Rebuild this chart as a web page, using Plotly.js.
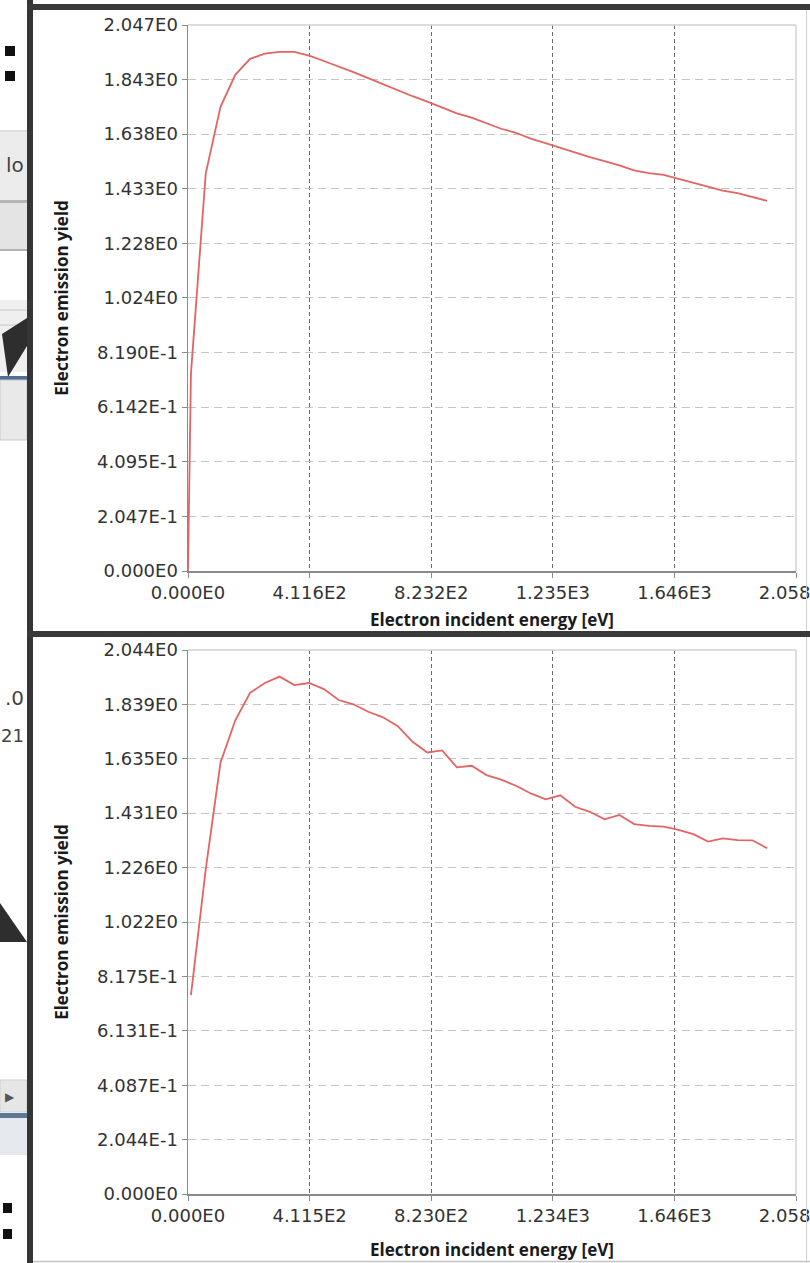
<!DOCTYPE html>
<html><head><meta charset="utf-8">
<script src="https://cdn.plot.ly/plotly-3.0.1.min.js"></script>
<style>html,body{margin:0;padding:0;background:#fff;overflow:hidden}#chart{width:810px;height:1263px}</style>
</head><body><div id="chart"></div>
<script>
// ---- data ----
const energyTop = [0,10,60,110,160,210,260,310,360,410,460,510,560,610,660,710,760,810,860,910,960,1010,1060,1110,1160,1210,1260,1310,1360,1410,1460,1510,1560,1610,1660,1710,1760,1810,1860,1910,1960];
const yieldTop  = [0,0.74,1.49,1.74,1.86,1.92,1.94,1.946,1.946,1.932,1.912,1.892,1.870,1.848,1.825,1.800,1.780,1.760,1.738,1.716,1.700,1.679,1.658,1.643,1.621,1.604,1.587,1.568,1.552,1.537,1.521,1.502,1.492,1.485,1.470,1.454,1.440,1.426,1.417,1.402,1.388];
const energyBottom = [10,60,110,160,210,260,310,360,410,460,510,560,610,660,710,760,810,860,910,960,1010,1060,1110,1160,1210,1260,1310,1360,1410,1460,1510,1560,1610,1660,1710,1760,1810,1860,1910,1960];
const yieldBottom  = [0.747,1.22,1.621,1.780,1.883,1.920,1.944,1.912,1.920,1.897,1.856,1.840,1.812,1.791,1.758,1.699,1.659,1.667,1.603,1.609,1.574,1.557,1.534,1.505,1.483,1.498,1.455,1.436,1.408,1.424,1.390,1.383,1.380,1.368,1.352,1.324,1.336,1.330,1.329,1.299];

const xTickValsTop = [0,411.6,823.2,1234.8,1646.4,2058];
const xTickTextTop = ["0.000E0","4.116E2","8.232E2","1.235E3","1.646E3","2.058E3"];
const yTickValsTop = [0,0.2047,0.4095,0.6142,0.8190,1.024,1.228,1.433,1.638,1.843,2.047];
const yTickTextTop = ["0.000E0","2.047E-1","4.095E-1","6.142E-1","8.190E-1","1.024E0","1.228E0","1.433E0","1.638E0","1.843E0","2.047E0"];
const xTickValsBottom = [0,411.5,823.0,1234.5,1646,2057.5];
const xTickTextBottom = ["0.000E0","4.115E2","8.230E2","1.234E3","1.646E3","2.058E3"];
const yTickValsBottom = [0,0.2044,0.4087,0.6131,0.8175,1.022,1.226,1.431,1.635,1.839,2.044];
const yTickTextBottom = ["0.000E0","2.044E-1","4.087E-1","6.131E-1","8.175E-1","1.022E0","1.226E0","1.431E0","1.635E0","1.839E0","2.044E0"];

const xTitle = "Electron incident energy [eV]";
const yTitle = "Electron emission yield";

// ---- geometry ----
const W = 810, H = 1263;
const M = {l:188, r:14, t:25, b:69};
const PW = W - M.l - M.r, PH = H - M.t - M.b;
const px = v => (v - M.l) / PW;
const py = v => (H - M.b - v) / PH;
const topDom = [1 - (571 - 25) / PH, 1];
const botDom = [0, (1194 - 650) / PH];

const tickFont = {family:"DejaVu Sans", size:18, color:"#333"};
const titleFont = {family:"Open Sans", size:17, color:"#1a1a1a", weight:700};
const lineCol = "#e26464";

function xAxis(vals, text, rng, anchor){
  return {domain:[0,1], anchor:anchor, range:rng, tickmode:"array", tickvals:vals, ticktext:text,
    showgrid:true, gridcolor:"#6a6a6a", griddash:"4px,3px", gridwidth:1, zeroline:false,
    showline:true, linecolor:"#8a8a8a", linewidth:1.5, ticks:"outside", ticklen:5, tickcolor:"#8a8a8a",
    ticklabeloverflow:"allow",
    tickfont:tickFont, title:{text:xTitle, font:titleFont, standoff:12}};
}
function yAxis(vals, text, rng, dom, anchor){
  return {domain:dom, anchor:anchor, range:rng, tickmode:"array", tickvals:vals, ticktext:text,
    showgrid:true, gridcolor:"#c4c4c4", griddash:"8px,5px", gridwidth:1, zeroline:false,
    showline:true, linecolor:"#8a8a8a", linewidth:1.5, ticks:"outside", ticklen:5, tickcolor:"#8a8a8a",
    tickfont:tickFont, title:{text:yTitle, font:titleFont, standoff:24}};
}

const traces = [
  {x:energyTop, y:yieldTop, xaxis:"x", yaxis:"y", type:"scatter", mode:"lines", line:{color:lineCol, width:1.8}, hoverinfo:"skip"},
  {x:energyBottom, y:yieldBottom, xaxis:"x2", yaxis:"y2", type:"scatter", mode:"lines", line:{color:lineCol, width:1.8}, hoverinfo:"skip"}
];

function rect(x0,y0,x1,y1,fill,lineColor,lw){
  return {type:"rect", xref:"paper", yref:"paper", x0:px(x0), x1:px(x1), y0:py(y0), y1:py(y1),
    fillcolor:fill, line:{color:lineColor||fill, width:lw||0}, layer:"above"};
}
function hline(x0,x1,y,color,w){
  return {type:"line", xref:"paper", yref:"paper", x0:px(x0), x1:px(x1), y0:py(y), y1:py(y), line:{color:color, width:w}, layer:"above"};
}
function vline(x,y0,y1,color,w){
  return {type:"line", xref:"paper", yref:"paper", x0:px(x), x1:px(x), y0:py(y0), y1:py(y1), line:{color:color, width:w}, layer:"above"};
}
function path(pts, fill){
  let d = pts.map((p,i)=>(i?"L":"M")+px(p[0])+","+py(p[1])).join(" ")+" Z";
  return {type:"path", xref:"paper", yref:"paper", path:d, fillcolor:fill, line:{width:0}, layer:"above"};
}

const shapes = [
  // plot borders (top/right)
  hline(188,796,25,"#d2d2d2",1.5), vline(796,25,571,"#d2d2d2",1.5),
  hline(188,796,650,"#d2d2d2",1.5), vline(796,650,1194,"#d2d2d2",1.5),
  // left UI fragments
  rect(0,130,27,200,"#ececec"), hline(0,27,131,"#d0d0d0",1), rect(0,200,27,203,"#b5b5b5"),
  rect(0,203,27,249,"#e4e4e4"), hline(0,27,250,"#9a9a9a",1.5),
  rect(0,300,27,372,"#efefef"), hline(0,27,310,"#c8c8c8",1), hline(0,27,325,"#c8c8c8",1),
  path([[2,334],[27,318],[27,346],[8,377]],"#2e2e2e"),
  rect(0,376,27,380,"#4f6f94"), rect(0,380,27,440,"#e9e9e9","#c9c9c9",1),
  path([[0,903],[27,942],[0,942]],"#2e2e2e"),
  rect(0,1080,27,1112,"#e6e6e6","#cfcfcf",1), rect(0,1113,27,1118,"#5b7896"), rect(0,1118,27,1155,"#e6eaee"),
  rect(5,46,15,56,"#111"), rect(5,71,15,81,"#111"),
  rect(3,1203,12,1213,"#111"), rect(3,1229,12,1239,"#111"),
  // frame
  rect(27,0,33,H,"#353535"),
  rect(27,4,W,10,"#3a3a3a"),
  rect(27,631,W,637,"#3a3a3a"),
  vline(806.5,10,631,"#cfcfcf",1), vline(806.5,637,H,"#cfcfcf",1),
  hline(33,W,1261.5,"#c4c4c4",1.5)
];

const uiFont = {family:"DejaVu Sans", size:20, color:"#444"};
const annotations = [
  {xref:"paper", yref:"paper", x:px(26), y:py(165), xanchor:"right", yanchor:"middle", text:"lo", showarrow:false, font:uiFont},
  {xref:"paper", yref:"paper", x:px(26), y:py(698), xanchor:"right", yanchor:"middle", text:".0", showarrow:false, font:uiFont},
  {xref:"paper", yref:"paper", x:px(26), y:py(735), xanchor:"right", yanchor:"middle", text:"21", showarrow:false, font:{family:"DejaVu Sans", size:18, color:"#444"}},
  {xref:"paper", yref:"paper", x:px(10), y:py(1097), xanchor:"center", yanchor:"middle", text:"▶", showarrow:false, font:{family:"DejaVu Sans", size:12, color:"#555"}}
];

const layout = {
  width:W, height:H, margin:M, paper_bgcolor:"#fff", plot_bgcolor:"#fff", showlegend:false,
  xaxis: xAxis(xTickValsTop, xTickTextTop, [0,2058], "y"),
  yaxis: yAxis(yTickValsTop, yTickTextTop, [0,2.047], topDom, "x"),
  xaxis2: xAxis(xTickValsBottom, xTickTextBottom, [0,2057.5], "y2"),
  yaxis2: yAxis(yTickValsBottom, yTickTextBottom, [0,2.044], botDom, "x2"),
  shapes: shapes, annotations: annotations
};
layout.xaxis2.title.standoff = 19;

Plotly.newPlot("chart", traces, layout, {displayModeBar:false, staticPlot:true});
</script></body></html>
